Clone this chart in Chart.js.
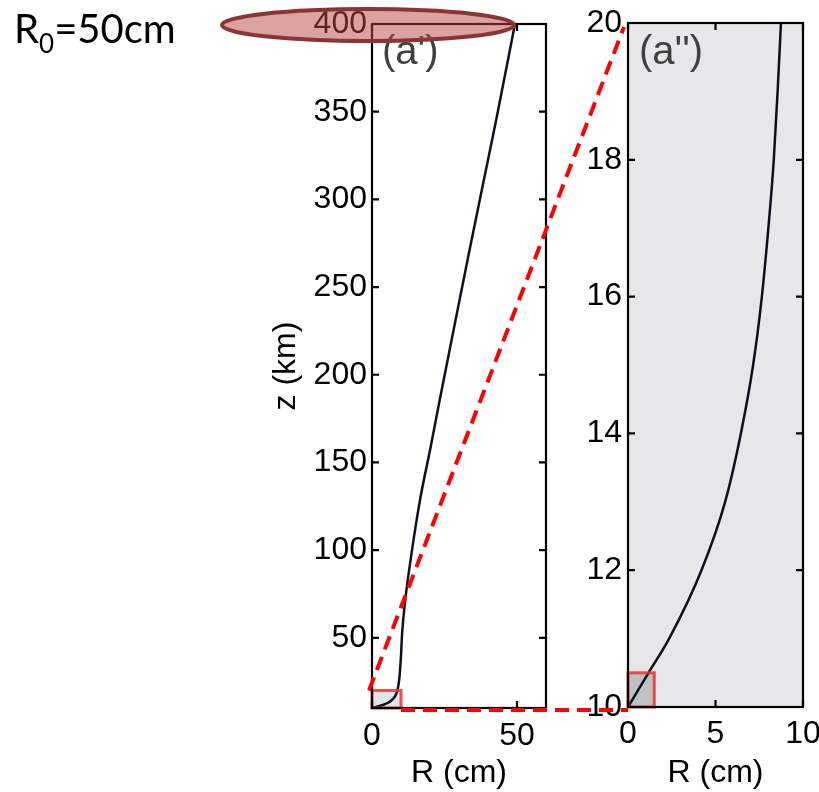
<!DOCTYPE html>
<html>
<head>
<meta charset="utf-8">
<script src="https://cdn.jsdelivr.net/npm/chart.js@4.4.1/dist/chart.umd.min.js"></script>
<style>
  body { margin: 0; background: #fff; }
  #wrap { position: relative; width: 819px; height: 792px; }
  #wrap canvas { position: absolute; left: 0; top: 0; }
</style>
</head>
<body>
<div id="wrap">
  <canvas id="panelA" width="819" height="792"></canvas>
  <canvas id="panelB" width="819" height="792"></canvas>
</div>
<script>
// (a') full profile, z in km, R in cm
const zA = [10, 10.5, 11, 12, 13, 14, 16, 18, 20, 25, 30, 40, 53, 72, 100, 129, 157, 186, 232, 270, 308, 346, 400];
const rA = [0, 1.17, 2.35, 4.2, 5.55, 6.45, 7.65, 8.33, 8.74, 9.3, 9.6, 10.0, 10.4, 11.5, 13.8, 16.6, 20.0, 23.4, 28.9, 33.5, 38.2, 42.9, 49.3];

// (a'') zoom on the first 10 km
const zB = [10, 10.5, 11, 12, 13, 14, 15, 16, 17, 18, 19, 20];
const rB = [0, 1.17, 2.35, 4.2, 5.55, 6.45, 7.15, 7.65, 8.02, 8.33, 8.55, 8.74];

const xTicksA = [0, 50];
const yTicksA = [50, 100, 150, 200, 250, 300, 350, 400];
const xTicksB = [0, 5, 10];
const yTicksB = [10, 12, 14, 16, 18, 20];

// zoom boxes [rMin, rMax, zMin, zMax]
const boxA = [0, 10, 10, 20];
const boxB = [0, 1.5, 10, 10.5];

const FONT = { family: "'Liberation Sans', Arial, sans-serif", size: 32 };
const LINE = "#10101c";

function frame(chart, label, lx) {
  const { ctx, chartArea: a, scales: { x, y } } = chart;
  ctx.save();
  ctx.strokeStyle = "#000";
  ctx.lineWidth = 2.2;
  ctx.strokeRect(a.left, a.top, a.right - a.left, a.bottom - a.top);
  ctx.beginPath();
  x.ticks.forEach(t => {
    const p = x.getPixelForValue(t.value);
    ctx.moveTo(p, a.bottom); ctx.lineTo(p, a.bottom - 7);
    ctx.moveTo(p, a.top); ctx.lineTo(p, a.top + 7);
  });
  y.ticks.forEach(t => {
    const p = y.getPixelForValue(t.value);
    ctx.moveTo(a.left, p); ctx.lineTo(a.left + 7, p);
    ctx.moveTo(a.right, p); ctx.lineTo(a.right - 7, p);
  });
  ctx.stroke();
  ctx.fillStyle = "#404040";
  ctx.font = "40px 'Liberation Sans', Arial, sans-serif";
  ctx.textBaseline = "alphabetic";
  ctx.fillText(label, lx, 64);
  ctx.restore();
}

function zoomBox(chart, box, fill, outline) {
  const { ctx, scales: { x, y } } = chart;
  const x0 = x.getPixelForValue(box[0]), x1 = x.getPixelForValue(box[1]);
  const y0 = y.getPixelForValue(box[2]), y1 = y.getPixelForValue(box[3]);
  ctx.save();
  if (fill) { ctx.fillStyle = fill; ctx.fillRect(x0, y1, x1 - x0, y0 - y1); }
  if (outline) { ctx.strokeStyle = "rgba(232,50,50,0.85)"; ctx.lineWidth = 3; ctx.strokeRect(x0, y1, x1 - x0, y0 - y1); }
  ctx.restore();
}

function axes(xMin, xMax, yMin, yMax, xT, yT, yWidth, xHeight, xPad, yPad, yTitle) {
  return {
    x: {
      type: "linear", min: xMin, max: xMax,
      afterBuildTicks: s => { s.ticks = xT.map(v => ({ value: v })); },
      afterFit: s => { s.height = xHeight; s.paddingLeft = 0; s.paddingRight = 0; },
      grid: { display: false, drawTicks: false },
      border: { display: false },
      ticks: { color: "#000", font: FONT, padding: xPad, maxRotation: 0, autoSkip: false },
      title: { display: true, text: "R (cm)", color: "#000", font: FONT, padding: 0 }
    },
    y: {
      type: "linear", min: yMin, max: yMax,
      afterBuildTicks: s => { s.ticks = yT.map(v => ({ value: v })); },
      afterFit: s => { s.width = yWidth; s.paddingTop = 0; s.paddingBottom = 0; },
      grid: { display: false, drawTicks: false },
      border: { display: false },
      ticks: { color: "#000", font: FONT, padding: yPad, autoSkip: false },
      title: { display: !!yTitle, text: yTitle || "", color: "#000", font: FONT, padding: { top: 4, bottom: 0 } }
    }
  };
}

const chartA = new Chart(document.getElementById("panelA"), {
  type: "scatter",
  data: {
    datasets: [{
      data: zA.map((z, i) => ({ x: rA[i], y: z })),
      showLine: true,
      borderColor: LINE,
      borderWidth: 2.5,
      pointRadius: 0,
      cubicInterpolationMode: "monotone"
    }]
  },
  options: {
    responsive: false,
    devicePixelRatio: 1,
    animation: false,
    layout: { padding: { left: 263, right: 273, top: 24, bottom: 0 } },
    plugins: { legend: { display: false }, tooltip: { enabled: false } },
    scales: axes(0, 60, 10, 400, xTicksA, yTicksA, 109, 84, 9, 5, "z (km)")
  },
  plugins: [{
    id: "panelA",
    beforeDatasetsDraw: c => zoomBox(c, boxA, "#e2e3e5", false),
    afterDatasetsDraw: c => { zoomBox(c, boxA, null, true); frame(c, "(a')", 382); }
  }]
});

new Chart(document.getElementById("panelB"), {
  type: "scatter",
  data: {
    datasets: [{
      data: zB.map((z, i) => ({ x: rB[i], y: z })),
      showLine: true,
      borderColor: LINE,
      borderWidth: 2.5,
      pointRadius: 0,
      cubicInterpolationMode: "monotone"
    }]
  },
  options: {
    responsive: false,
    devicePixelRatio: 1,
    animation: false,
    layout: { padding: { left: 560, right: 16, top: 23, bottom: 0 } },
    plugins: { legend: { display: false }, tooltip: { enabled: false } },
    scales: axes(0, 10, 10, 20, xTicksB, yTicksB, 68, 85, 8, 6, null)
  },
  plugins: [{
    id: "panelB",
    beforeDraw: c => {
      const a = c.chartArea;
      c.ctx.save();
      c.ctx.fillStyle = "#e6e7e9";
      c.ctx.fillRect(a.left, a.top, a.right - a.left, a.bottom - a.top);
      c.ctx.restore();
    },
    beforeDatasetsDraw: c => zoomBox(c, boxB, "#bfc0c2", false),
    afterDatasetsDraw: c => { zoomBox(c, boxB, null, true); frame(c, "(a'')", 639); },
    afterDraw: c => {
      const ctx = c.ctx;
      const xa = chartA.scales.x, ya = chartA.scales.y;
      const xb = c.scales.x, yb = c.scales.y;
      ctx.save();

      // highlight around the top of the z axis
      ctx.beginPath();
      ctx.ellipse(chartA.chartArea.left - 4, ya.getPixelForValue(400) + 1, 146, 16, 0, 0, Math.PI * 2);
      ctx.fillStyle = "rgba(185,70,70,0.5)";
      ctx.fill();
      ctx.strokeStyle = "#8b3434";
      ctx.lineWidth = 4;
      ctx.stroke();

      // dashed zoom connectors
      ctx.setLineDash([14, 8]);
      ctx.strokeStyle = "#ff0000";
      ctx.lineWidth = 4;
      ctx.beginPath();
      ctx.moveTo(xa.getPixelForValue(boxA[0]) - 3, ya.getPixelForValue(boxA[3]));
      ctx.lineTo(xb.getPixelForValue(0) - 4, yb.getPixelForValue(20) + 4);
      ctx.moveTo(xa.getPixelForValue(boxA[1]), ya.getPixelForValue(boxA[2]) + 2);
      ctx.lineTo(xb.getPixelForValue(0), yb.getPixelForValue(10) + 3);
      ctx.stroke();
      ctx.setLineDash([]);

      // R0 label
      ctx.fillStyle = "#000";
      ctx.textBaseline = "alphabetic";
      ctx.font = "40px Lato, sans-serif";
      ctx.fillText("R", 14, 43);
      let w = 14 + ctx.measureText("R").width;
      ctx.font = "26px Lato, sans-serif";
      ctx.fillText("0", w, 53);
      w += ctx.measureText("0").width;
      ctx.font = "40px Lato, sans-serif";
      ctx.fillText("=50cm", w, 43);
      ctx.restore();
    }
  }]
});
</script>
</body>
</html>
